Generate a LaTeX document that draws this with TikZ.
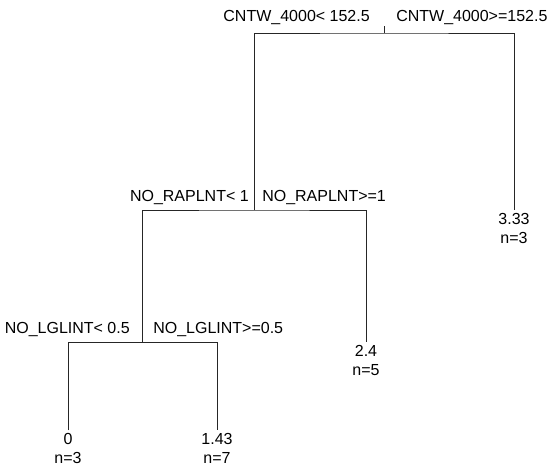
\documentclass[tikz,border=0pt]{standalone}
\usepackage{fontspec}
\setmainfont{Liberation Sans}
\usepackage{tikz}
\usetikzlibrary{positioning}
\tikzset{
  splitlbl/.style={font=\fontsize{12}{14}\selectfont,inner sep=0pt,anchor=base},
  leaflbl/.style={font=\fontsize{12}{14.25}\selectfont,align=center,inner sep=0pt,anchor=north},
  treeline/.style={line width=0.75pt,black!85}
}

\begin{document}
\begin{tikzpicture}[x=0.75pt,y=-0.75pt]
\useasboundingbox (0,0) rectangle (549,469);
% split points
\coordinate (s1) at (384,33);
\coordinate (s2) at (254,210);
\coordinate (s3) at (142,342);
% split labels
\node[splitlbl,anchor=base east] (s1l) at (370,21) {CNTW\_4000< 152.5};
\node[splitlbl,anchor=base west] (s1r) at (396,21) {CNTW\_4000>=152.5};
\node[splitlbl,anchor=base east] (s2l) at (249,201) {NO\_RAPLNT< 1};
\node[splitlbl,anchor=base west] (s2r) at (262,201) {NO\_RAPLNT>=1};
\node[splitlbl,anchor=base east] (s3l) at (130,333) {NO\_LGLINT< 0.5};
\node[splitlbl,anchor=base west] (s3r) at (153,333) {NO\_LGLINT>=0.5};
% leaves
\node[leaflbl] (l1) at (514,213) {3.33\\n=3};
\node[leaflbl] (l2) at (366,345) {2.4\\n=5};
\node[leaflbl] (l3) at (68,433) {0\\n=3};
\node[leaflbl] (l4) at (217,433) {1.43\\n=7};
% branches
\draw[treeline] (s1) -- ++(0,-7);
\draw[treeline] (s2) |- (s1) -| ([yshift=2pt]l1.north);
\draw[treeline] (s3) |- (s2) -| ([yshift=2pt]l2.north);
\draw[treeline] ([yshift=2pt]l3.north) |- (s3) -| ([yshift=2pt]l4.north);
\end{tikzpicture}
\end{document}
